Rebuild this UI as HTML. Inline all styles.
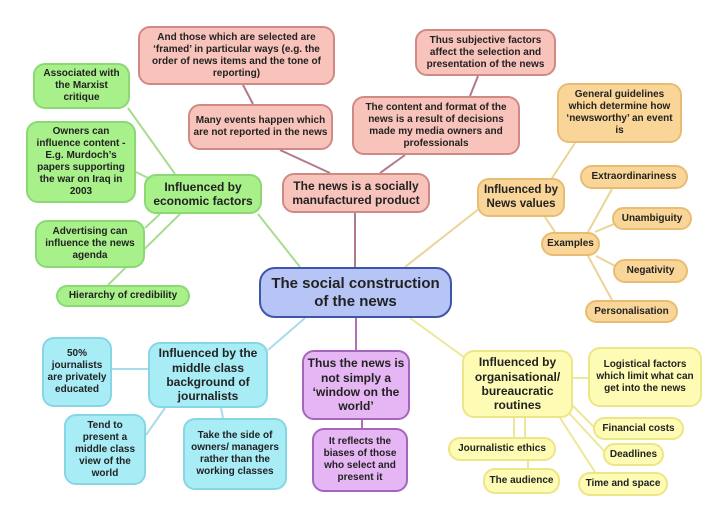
<!DOCTYPE html>
<html><head><meta charset="utf-8"><style>
body{margin:0;width:720px;height:523px;background:#fff;position:relative;overflow:hidden;font-family:"Liberation Sans",Arial,sans-serif;}
.n{position:absolute;box-sizing:border-box;display:flex;align-items:center;justify-content:center;text-align:center;font-weight:bold;color:#222;border-radius:12px;border:2px solid;font-size:10px;line-height:1.2;padding:2px 3px;}
.p{background:#f8c3bb;border-color:#d08a86;}
.g{background:#a8f08a;border-color:#8cd874;}
.o{background:#f9d597;border-color:#e8bd73;}
.b{background:#a8ecf6;border-color:#86d6e4;}
.v{background:#e5b6f3;border-color:#a665bd;}
.y{background:#fdfbb4;border-color:#ece686;}
svg{position:absolute;left:0;top:0;}
</style></head><body>
<svg width="720" height="523">
<g stroke-width="2" fill="none">
<g stroke="#b07a88">
<line x1="355" y1="267" x2="355" y2="213"/>
<line x1="330" y1="173" x2="280" y2="150"/>
<line x1="380" y1="173" x2="405" y2="155"/>
<line x1="243" y1="85" x2="253" y2="104"/>
<line x1="478" y1="76" x2="470" y2="96"/>
</g>
<g stroke="#a8dc90">
<line x1="300" y1="267" x2="258" y2="214"/>
<line x1="128" y1="108" x2="175" y2="174"/>
<line x1="136" y1="172" x2="148" y2="178"/>
<line x1="145" y1="228" x2="160" y2="214"/>
<line x1="108" y1="285" x2="180" y2="214"/>
</g>
<g stroke="#ecd498">
<line x1="405" y1="267" x2="480" y2="208"/>
<line x1="552" y1="178" x2="575" y2="143"/>
<line x1="545" y1="217" x2="555" y2="232"/>
<line x1="588" y1="232" x2="612" y2="189"/>
<line x1="595" y1="232" x2="614" y2="224"/>
<line x1="596" y1="256" x2="615" y2="266"/>
<line x1="588" y1="256" x2="612" y2="300"/>
</g>
<g stroke="#a8dcec">
<line x1="305" y1="318" x2="268" y2="350"/>
<line x1="112" y1="369" x2="148" y2="369"/>
<line x1="165" y1="408" x2="146" y2="435"/>
<line x1="221" y1="408" x2="223" y2="418"/>
</g>
<g stroke="#b070b8">
<line x1="356" y1="318" x2="356" y2="350"/>
<line x1="362" y1="420" x2="362" y2="428"/>
</g>
<g stroke="#ece898">
<line x1="410" y1="318" x2="468" y2="360"/>
<line x1="573" y1="378" x2="588" y2="378"/>
<line x1="572" y1="405" x2="595" y2="428"/>
<line x1="568" y1="412" x2="605" y2="452"/>
<line x1="560" y1="418" x2="595" y2="472"/>
<line x1="514" y1="418" x2="514" y2="437"/>
<line x1="525" y1="418" x2="525" y2="437"/>
<line x1="528" y1="461" x2="528" y2="468"/>
</g>
</g>
</svg>
<div class="n p" style="left:138px;top:26px;width:197px;height:59px;">And those which are selected are ‘framed’ in particular ways (e.g. the order of news items and the tone of reporting)</div>
<div class="n p" style="left:188px;top:104px;width:145px;height:46px;">Many events happen which are not reported in the news</div>
<div class="n p" style="left:415px;top:29px;width:141px;height:47px;">Thus subjective factors affect the selection and presentation of the news</div>
<div class="n p" style="left:352px;top:96px;width:168px;height:59px;">The content and format of the news is a result of decisions made my media owners and professionals</div>
<div class="n p" style="left:282px;top:173px;width:148px;height:40px;font-size:12px;">The news is a socially manufactured product</div>
<div class="n" style="left:259px;top:267px;width:193px;height:51px;background:#b6c4f6;border-color:#3f55a8;font-size:15px;border-radius:16px;">The social construction of the news</div>

<div class="n g" style="left:33px;top:63px;width:97px;height:46px;">Associated with the Marxist critique</div>
<div class="n g" style="left:26px;top:121px;width:110px;height:82px;">Owners can influence content - E.g. Murdoch’s papers supporting the war on Iraq in 2003</div>
<div class="n g" style="left:144px;top:174px;width:118px;height:40px;font-size:12px;">Influenced by economic factors</div>
<div class="n g" style="left:35px;top:220px;width:110px;height:48px;">Advertising can influence the news agenda</div>
<div class="n g" style="left:56px;top:285px;width:134px;height:22px;">Hierarchy of credibility</div>

<div class="n o" style="left:557px;top:83px;width:125px;height:60px;">General guidelines which determine how ‘newsworthy’ an event is</div>
<div class="n o" style="left:477px;top:178px;width:88px;height:39px;font-size:11.5px;padding:1px;">Influenced by News values</div>
<div class="n o" style="left:580px;top:165px;width:108px;height:24px;">Extraordinariness</div>
<div class="n o" style="left:612px;top:207px;width:80px;height:23px;">Unambiguity</div>
<div class="n o" style="left:541px;top:232px;width:59px;height:24px;">Examples</div>
<div class="n o" style="left:613px;top:259px;width:75px;height:24px;">Negativity</div>
<div class="n o" style="left:585px;top:300px;width:93px;height:23px;">Personalisation</div>

<div class="n b" style="left:42px;top:337px;width:70px;height:70px;">50% journalists are privately educated</div>
<div class="n b" style="left:148px;top:342px;width:120px;height:66px;font-size:12px;">Influenced by the middle class background of journalists</div>
<div class="n b" style="left:64px;top:414px;width:82px;height:71px;">Tend to present a middle class view of the world</div>
<div class="n b" style="left:183px;top:418px;width:104px;height:72px;">Take the side of owners/ managers rather than the working classes</div>

<div class="n v" style="left:302px;top:350px;width:108px;height:70px;font-size:12px;">Thus the news is not simply a ‘window on the world’</div>
<div class="n v" style="left:312px;top:428px;width:96px;height:64px;">It reflects the biases of those who select and present it</div>

<div class="n y" style="left:462px;top:350px;width:111px;height:68px;font-size:12px;">Influenced by organisational/ bureaucratic routines</div>
<div class="n y" style="left:588px;top:347px;width:114px;height:60px;">Logistical factors which limit what can get into the news</div>
<div class="n y" style="left:593px;top:417px;width:91px;height:23px;">Financial costs</div>
<div class="n y" style="left:603px;top:443px;width:61px;height:23px;">Deadlines</div>
<div class="n y" style="left:578px;top:472px;width:90px;height:24px;">Time and space</div>
<div class="n y" style="left:448px;top:437px;width:108px;height:24px;">Journalistic ethics</div>
<div class="n y" style="left:483px;top:468px;width:77px;height:26px;">The audience</div>
</body></html>
